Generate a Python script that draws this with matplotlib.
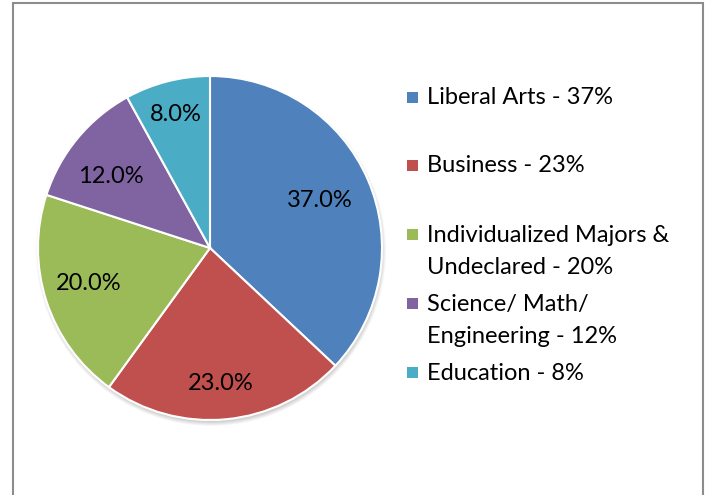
import numpy as np
import matplotlib
matplotlib.use("Agg")
import matplotlib.pyplot as plt
from matplotlib.patches import Rectangle, Circle

categories = ["Liberal Arts - 37%", "Business - 23%", "Individualized Majors &\nUndeclared - 20%",
              "Science/ Math/\nEngineering - 12%", "Education - 8%"]
values = [37.0, 23.0, 20.0, 12.0, 8.0]
colors = ["#4F81BD", "#C0504D", "#9BBB59", "#8064A2", "#4BACC6"]
label_dist = [0.70, 0.78, 0.73, 0.72, 0.81]
label_rot = [1.0, -1.0, -2.7, 3.0, -0.2]
legend_y = [97, 165, 234, 303, 372]

W, H = 709, 495
fig = plt.figure(figsize=(W / 100, H / 100), dpi=100)
ax = fig.add_axes([0, 0, 1, 1])

FONT = "Lato"
FS = 17
cx, cy, R = 210, H - 248, 172

# soft shadow
for i in range(8):
    ax.add_patch(Circle((cx + 1, cy - 3), R + 3 - i * 0.6, facecolor="black",
                        alpha=0.025, edgecolor="none", zorder=1))

wedges, _ = ax.pie(values, colors=colors, startangle=90, counterclock=False,
                   center=(cx, cy), radius=R, frame=True,
                   wedgeprops=dict(edgecolor="white", linewidth=1.5, zorder=2))
ax.set_xlim(0, W)
ax.set_ylim(0, H)
ax.set_aspect("equal")
ax.axis("off")

for w, v, d, r in zip(wedges, values, label_dist, label_rot):
    ang = np.deg2rad((w.theta1 + w.theta2) / 2 + r)
    ax.text(cx + d * R * np.cos(ang), cy + d * R * np.sin(ang), f"{v:.1f}%",
            ha="center", va="center_baseline", fontsize=FS, family=FONT, color="black", zorder=5)

for name, c, yy in zip(categories, colors, legend_y):
    y = H - yy
    ax.add_patch(Rectangle((407, y - 5.5), 11, 11, facecolor=c, edgecolor="none", zorder=5))
    for k, line in enumerate(name.split("\n")):
        ax.text(427, y - 7.5 - k * 32.5, line, ha="left", va="baseline", fontsize=FS,
                family=FONT, color="black", zorder=5)

ax.add_patch(Rectangle((12.5, -5), 690, H - 3 + 5, facecolor="none",
                       edgecolor="#8c8c8c", linewidth=1.5, zorder=6, clip_on=False))

fig.savefig("out.png", dpi=100, facecolor="white")
